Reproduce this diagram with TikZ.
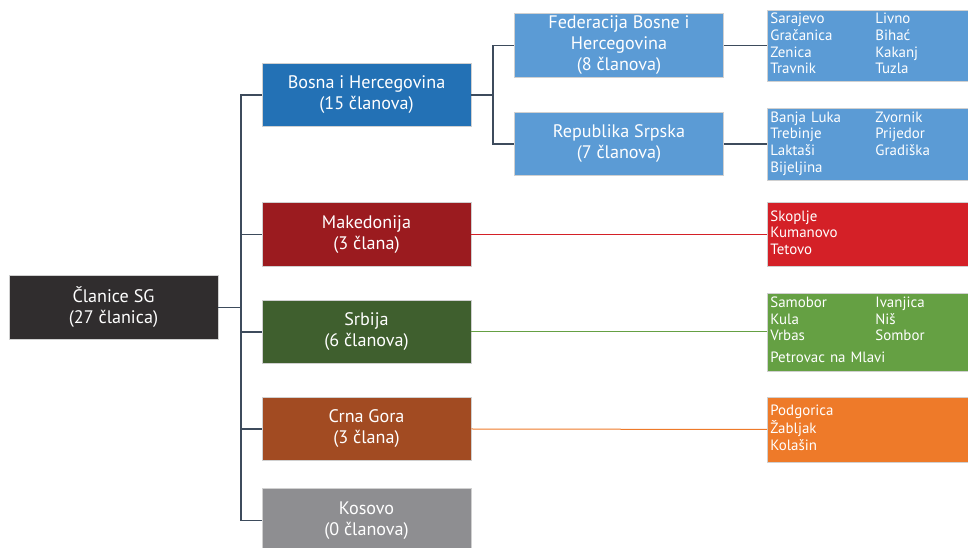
\documentclass[tikz,border=0pt]{standalone}
\usepackage{fontspec}
\setmainfont{PT Sans}
\usetikzlibrary{positioning}

\definecolor{linkgray}{HTML}{3D4B5C}
\definecolor{rootfill}{HTML}{302D2E}
\definecolor{bihdark}{HTML}{2371B5}
\definecolor{bihlight}{HTML}{5B9BD5}
\definecolor{mkdark}{HTML}{9B1B1F}
\definecolor{mklight}{HTML}{D42027}
\definecolor{srdark}{HTML}{3F5F2E}
\definecolor{srlight}{HTML}{65A043}
\definecolor{cgdark}{HTML}{A24B22}
\definecolor{cglight}{HTML}{EE7A29}
\definecolor{kosfill}{HTML}{8E8E91}
\definecolor{boxline}{HTML}{D0D0D0}

\tikzset{
  unit/.style={draw=boxline, line width=0.6pt, text=white, align=center,
    minimum width=156.75pt, minimum height=47.5pt, inner sep=2pt,
    font=\fontsize{13.6}{15.75}\selectfont},
  towns/.style={draw=boxline, line width=0.6pt, text=white, anchor=west,
    text width=146.25pt, inner xsep=2.25pt, inner ysep=1pt, align=left,
    font=\fontsize{11.2}{12.5}\selectfont},
  link/.style={draw=linkgray, line width=1pt},
  thinlink/.style={line width=0.75pt}
}

\begin{document}
\begin{tikzpicture}[x=0.75pt,y=-0.75pt]
\useasboundingbox (0,0) rectangle (968,548);
\clip (0,0) rectangle (968,548);

\node[unit, fill=rootfill] (root) at (113.5,307.5) {Članice SG\\(27 članica)};

\node[unit, fill=bihdark] (bih) at (366.5,95) {Bosna i Hercegovina\\(15 članova)};
\node[unit, fill=mkdark] (mk) at (366.5,234.5) {Makedonija\\(3 člana)};
\node[unit, fill=srdark] (sr) at (366.5,332) {Srbija\\(6 članova)};
\node[unit, fill=cgdark] (cg) at (366.5,429) {Crna Gora\\(3 člana)};
\node[unit, fill=kosfill] (kos) at (366.5,520.5) {Kosovo\\(0 članova)};

\node[unit, fill=bihlight] (fbih) at (619,45.5) {Federacija Bosne i\\Hercegovina\\(8 članova)};
\node[unit, fill=bihlight] (rs) at (619,144) {Republika Srpska\\(7 članova)};

\node[towns, fill=bihlight, minimum height=53.25pt] (fbihtowns) at (767,45.5)
  {\begin{tabular}{@{}p{66.75pt}l@{}}Sarajevo & Livno\\Gračanica & Bihać\\Zenica & Kakanj\\Travnik & Tuzla\end{tabular}};
\node[towns, fill=bihlight, minimum height=54pt] (rstowns) at (767,144)
  {\begin{tabular}{@{}p{66.75pt}l@{}}Banja Luka & Zvornik\\Trebinje & Prijedor\\Laktaši & Gradiška\\Bijeljina &\end{tabular}};
\node[towns, fill=mklight, minimum height=48pt] (mktowns) at (767,234.5)
  {\begin{tabular}{@{}l@{}}Skoplje\\Kumanovo\\Tetovo\end{tabular}};
\node[towns, fill=srlight, minimum height=58.5pt] (srtowns) at (767,332)
  {\begin{tabular}{@{}p{66.75pt}l@{}}Samobor & Ivanjica\\Kula & Niš\\Vrbas & Sombor\\[4pt]\multicolumn{2}{@{}l@{}}{Petrovac na Mlavi}\end{tabular}};
\node[towns, fill=cglight, minimum height=48.75pt] (cgtowns) at (767,429.5)
  {\begin{tabular}{@{}l@{}}Podgorica\\Žabljak\\Kolašin\end{tabular}};

\coordinate (rj) at (241,307.5);
\coordinate (bj) at (493,95);

\draw[link] (root.east) -- (rj);
\draw[link] (rj) |- (bih.west);
\draw[link] (rj) |- (mk.west);
\draw[link] (rj) |- (sr.west);
\draw[link] (rj) |- (cg.west);
\draw[link] (rj) |- (kos.west);

\draw[link] (bih.east) -- (bj);
\draw[link] (bj) |- (fbih.west);
\draw[link] (bj) |- (rs.west);

\draw[link] (fbih.east) -- (fbihtowns.west);
\draw[link] (rs.east) -- (rstowns.west);
\draw[link, thinlink, draw=mklight] (mk.east) -- (mktowns.west);
\draw[link, thinlink, draw=srlight] (sr.east) -- (srtowns.west);
\draw[link, thinlink, draw=cglight] (cg.east) -- (cgtowns.west);
\end{tikzpicture}
\end{document}
